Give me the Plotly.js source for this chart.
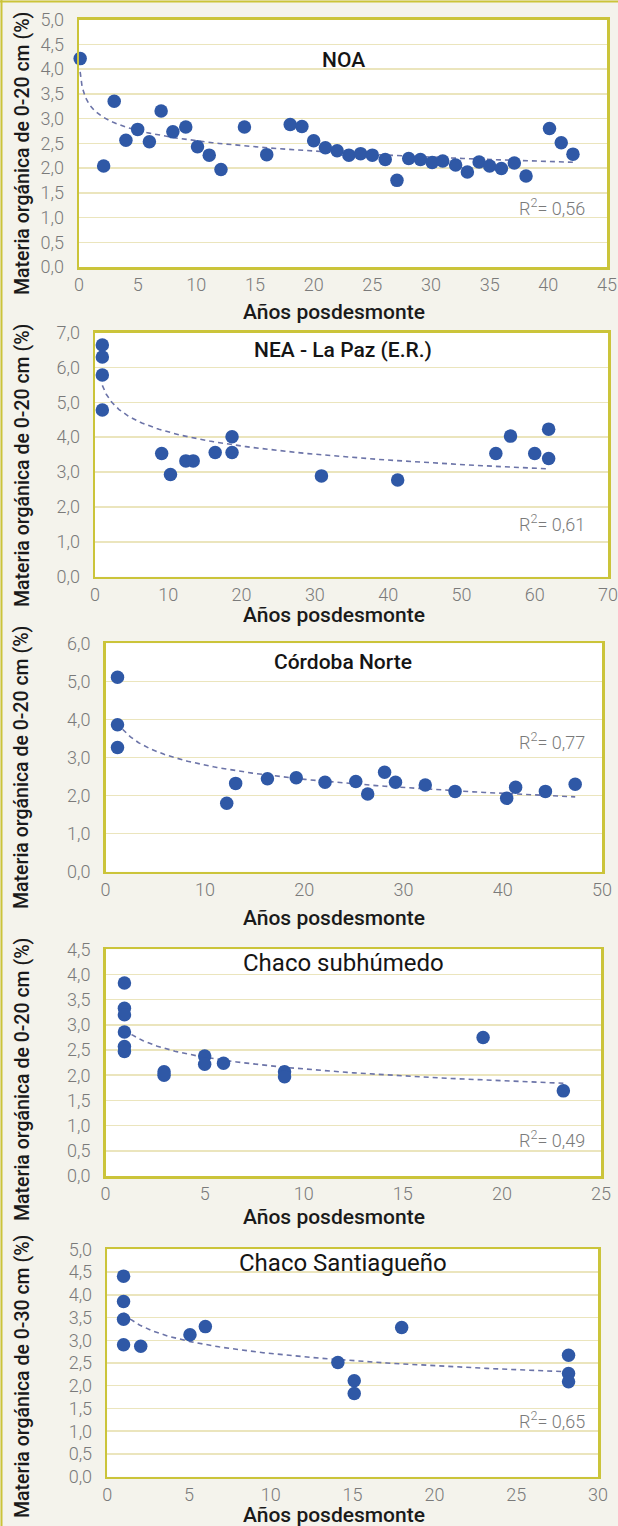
<!DOCTYPE html>
<html>
<head>
<meta charset="utf-8">
<script src="https://cdn.plot.ly/plotly-3.0.1.min.js"></script>
<style>
html,body{margin:0;padding:0;background:#f4f3ec;}
#chart{width:618px;height:1526px;}
</style>
</head>
<body>
<div id="chart"></div>
<script>
// ---------- DATA ----------
const panelTitles = ["NOA", "NEA - La Paz (E.R.)", "Córdoba Norte", "Chaco subhúmedo", "Chaco Santiagueño"];
const yTitles = ["Materia orgánica de 0-20 cm (%)", "Materia orgánica de 0-20 cm (%)", "Materia orgánica de 0-20 cm (%)", "Materia orgánica de 0-20 cm (%)", "Materia orgánica de 0-30 cm (%)"];
const xTitle = "Años posdesmonte";
const r2Labels = ["0,56", "0,61", "0,77", "0,49", "0,65"];

const noaX = [0.1, 2.1, 3, 4, 5, 6, 7, 8, 9.1, 10.1, 11.1, 12.1, 14.1, 16, 18, 19, 20, 21, 22, 23, 24, 25, 26.1, 27.1, 28.1, 29.1, 30.1, 31, 32.1, 33.1, 34.1, 35, 36, 37.1, 38.1, 40.1, 41.1, 42.1];
const noaY = [4.21, 2.04, 3.35, 2.56, 2.78, 2.53, 3.15, 2.73, 2.83, 2.43, 2.26, 1.97, 2.83, 2.27, 2.88, 2.84, 2.55, 2.41, 2.35, 2.26, 2.29, 2.26, 2.17, 1.75, 2.19, 2.17, 2.11, 2.14, 2.06, 1.92, 2.12, 2.04, 1.99, 2.10, 1.84, 2.80, 2.51, 2.28];

const neaX = [1, 1, 1, 1, 9.1, 10.3, 12.4, 13.4, 16.4, 18.7, 18.7, 30.9, 41.3, 54.7, 56.7, 60, 61.9, 61.9];
const neaY = [6.64, 6.30, 5.78, 4.78, 3.53, 2.93, 3.32, 3.32, 3.56, 4.01, 3.56, 2.89, 2.77, 3.53, 4.03, 3.53, 4.23, 3.39];

const cordX = [1.2, 1.2, 1.2, 12.2, 13.1, 16.3, 19.2, 22.1, 25.2, 26.4, 28.1, 29.2, 32.2, 35.2, 40.4, 41.3, 44.3, 47.3];
const cordY = [5.11, 3.86, 3.26, 1.80, 2.32, 2.44, 2.47, 2.35, 2.37, 2.04, 2.61, 2.35, 2.28, 2.11, 1.93, 2.22, 2.11, 2.30];

const subX = [0.95, 0.95, 0.95, 0.95, 0.95, 0.95, 2.95, 2.95, 5, 5, 5.95, 9.03, 9.03, 19.05, 23.1];
const subY = [3.83, 3.33, 3.20, 2.86, 2.57, 2.47, 2.07, 2.00, 2.38, 2.22, 2.24, 2.07, 1.97, 2.75, 1.69];

const santX = [1, 1, 1, 1, 2.05, 5.06, 6, 14.1, 15.1, 15.1, 18, 28.2, 28.2, 28.2];
const santY = [4.41, 3.85, 3.46, 2.90, 2.87, 3.12, 3.30, 2.51, 2.11, 1.83, 3.28, 2.67, 2.27, 2.09];

const xMax = [45, 70, 50, 25, 30];
const xStep = [5, 10, 10, 5, 5];
const yMax = [5, 7, 6, 4.5, 5];
const yStep = [0.5, 1, 1, 0.5, 0.5];

const seriesX = [noaX, neaX, cordX, subX, santX];
const seriesY = [noaY, neaY, cordY, subY, santY];

// ---------- LAYOUT GEOMETRY (pixels) ----------
const W = 618, H = 1526;
const boxes = [
  {l: 79, r: 607, t: 19.5, b: 267},
  {l: 95, r: 608, t: 332.5, b: 576.7},
  {l: 105.6, r: 602, t: 643.3, b: 871.7},
  {l: 105.6, r: 601, t: 949.3, b: 1176},
  {l: 107.2, r: 598, t: 1249.3, b: 1476.7}
];
const titleY = [60, 350, 661.7, 963, 1263];
const r2Y = [206.7, 523.3, 740.7, 1139.3, 1420];
const xTitleY = [312, 615, 918, 1217, 1515];
const yTitleY = [154, 466, 768, 1080, 1377];

const px = x => x / W;
const py = y => 1 - y / H;

// least-squares logarithmic trend y = a + b ln(x), computed from the data
function logFit(xs, ys) {
  const n = xs.length;
  let sl = 0, sy = 0, sll = 0, sly = 0;
  for (let i = 0; i < n; i++) {
    const l = Math.log(xs[i]);
    sl += l; sy += ys[i]; sll += l * l; sly += l * ys[i];
  }
  const b = (n * sly - sl * sy) / (n * sll - sl * sl);
  const a = (sy - b * sl) / n;
  return {a, b};
}

const BLUE = '#2f58a6';
const BORDER = '#cbc43a';
const GRID = '#ebe5bd';
const TICKFONT = {family: 'Roboto, Liberation Sans, sans-serif', size: 18, color: '#7a7a7a', weight: 300};

const traces = [];
const layout = {
  width: W, height: H,
  margin: {l: 0, r: 0, t: 0, b: 0},
  paper_bgcolor: '#f4f3ec',
  plot_bgcolor: '#ffffff',
  showlegend: false,
  separators: ',.',
  annotations: [],
  shapes: [
    {type: 'line', xref: 'paper', yref: 'paper', x0: px(1.5), x1: px(1.5), y0: 0, y1: 1, line: {color: BORDER, width: 2}},
    {type: 'line', xref: 'paper', yref: 'paper', x0: 0, x1: 1, y0: py(1.5), y1: py(1.5), line: {color: BORDER, width: 2}}
  ]
};

for (let i = 0; i < 5; i++) {
  const sfx = i === 0 ? '' : String(i + 1);
  const xa = 'x' + sfx, ya = 'y' + sfx;
  const bx = boxes[i];
  const xs = seriesX[i], ys = seriesY[i];

  // trend line
  const fit = logFit(xs, ys);
  const x0 = Math.min(...xs), x1 = Math.max(...xs);
  const tx = [], ty = [];
  for (let k = 0; k <= 120; k++) {
    const xv = x0 * Math.pow(x1 / x0, k / 120);
    tx.push(xv); ty.push(fit.a + fit.b * Math.log(xv));
  }
  traces.push({
    x: tx, y: ty, xaxis: xa, yaxis: ya, type: 'scatter', mode: 'lines',
    line: {color: '#6c74a8', width: 1.6, dash: '5px,4px'}, hoverinfo: 'skip', cliponaxis: false
  });
  traces.push({
    x: xs, y: ys, xaxis: xa, yaxis: ya, type: 'scatter', mode: 'markers',
    marker: {color: BLUE, size: 13.5}, cliponaxis: false
  });

  layout['xaxis' + sfx] = {
    domain: [px(bx.l), px(bx.r)], anchor: ya,
    range: [0, xMax[i]], dtick: xStep[i], tick0: 0,
    showgrid: false, zeroline: false,
    showline: true, mirror: true, linecolor: BORDER, linewidth: 2.5,
    ticks: '', tickfont: TICKFONT, ticklabelstandoff: 0,
    ticklabeloverflow: 'allow',
    fixedrange: true
  };
  layout['yaxis' + sfx] = {
    domain: [py(bx.b), py(bx.t)], anchor: xa,
    range: [0, yMax[i]], dtick: yStep[i], tick0: 0, tickformat: '.1f',
    showgrid: true, gridcolor: GRID, gridwidth: 1.5, zeroline: false,
    showline: true, mirror: true, linecolor: BORDER, linewidth: 2.5,
    ticks: '', tickfont: TICKFONT, ticklabelstandoff: 9,
    ticklabeloverflow: 'allow',
    fixedrange: true
  };

  const big = i >= 3;
  layout.annotations.push({
    text: panelTitles[i], xref: 'paper', yref: 'paper', x: px(343), y: py(titleY[i]),
    xanchor: 'center', yanchor: 'middle', showarrow: false,
    font: {family: 'Roboto, sans-serif', size: big ? 24 : 21, color: '#151515', weight: big ? 400 : 500}
  });
  layout.annotations.push({
    text: 'R<sup>2</sup>= ' + r2Labels[i], xref: 'paper', yref: 'paper', x: px(587), y: py(r2Y[i]),
    xanchor: 'right', yanchor: 'middle', showarrow: false,
    font: {family: 'Roboto, sans-serif', size: 18, color: '#7a7a7a', weight: 300}
  });
  layout.annotations.push({
    text: xTitle, xref: 'paper', yref: 'paper', x: px(334), y: py(xTitleY[i]),
    xanchor: 'center', yanchor: 'middle', showarrow: false,
    font: {family: 'Roboto, sans-serif', size: 21, color: '#1a1a1a', weight: 500}
  });
  layout.annotations.push({
    text: yTitles[i], xref: 'paper', yref: 'paper', x: px(22), y: py(yTitleY[i]),
    xanchor: 'center', yanchor: 'middle', textangle: -90, showarrow: false,
    font: {family: 'Roboto, sans-serif', size: 19.5, color: '#1a1a1a', weight: 500}
  });
}

Plotly.newPlot('chart', traces, layout, {displayModeBar: false, staticPlot: true});
</script>
</body>
</html>
